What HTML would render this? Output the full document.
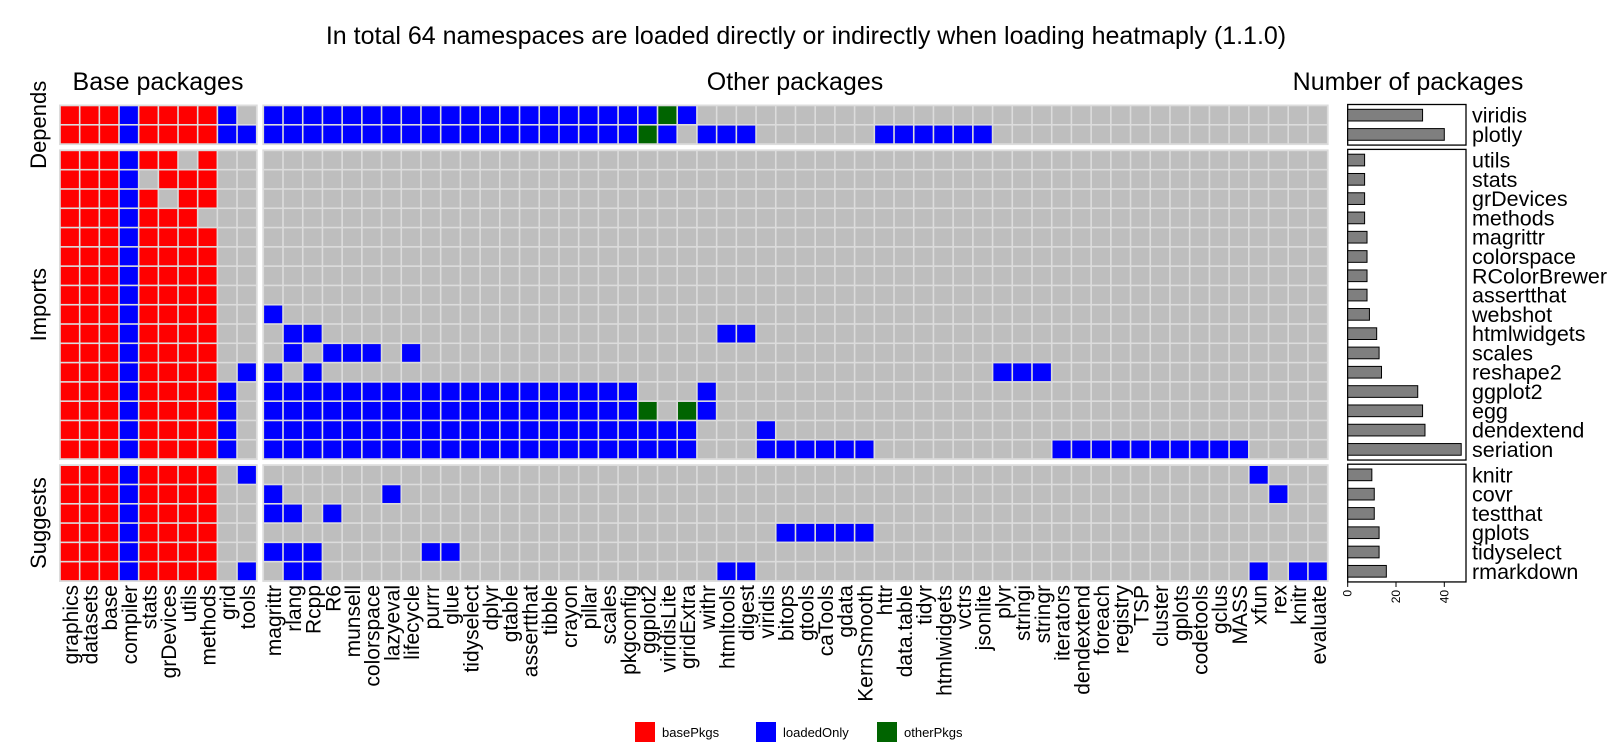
<!DOCTYPE html>
<html><head><meta charset="utf-8"><style>
html,body{margin:0;padding:0;background:#fff;}
svg{display:block;font-family:"Liberation Sans",Arial,sans-serif;}
</style></head><body>
<svg id="chart" width="1612" height="755" viewBox="0 0 1612 755" xmlns="http://www.w3.org/2000/svg">
<text x="806" y="44" font-size="25" text-anchor="middle">In total 64 namespaces are loaded directly or indirectly when loading heatmaply (1.1.0)</text>
<text x="158" y="90" font-size="25" text-anchor="middle">Base packages</text>
<text x="795" y="90" font-size="25" text-anchor="middle">Other packages</text>
<text x="1408" y="90" font-size="25" text-anchor="middle">Number of packages</text>
<g id="cells"></g>
<g id="bars"></g>
<g id="labels"></g>
<g id="legend"></g>
</svg>
<script>
const baseCols = ["graphics","datasets","base","compiler","stats","grDevices","utils","methods","grid","tools"];
const otherCols = ["magrittr","rlang","Rcpp","R6","munsell","colorspace","lazyeval","lifecycle","purrr","glue","tidyselect","dplyr","gtable","assertthat","tibble","crayon","pillar","scales","pkgconfig","ggplot2","viridisLite","gridExtra","withr","htmltools","digest","viridis","bitops","gtools","caTools","gdata","KernSmooth","httr","data.table","tidyr","htmlwidgets","vctrs","jsonlite","plyr","stringi","stringr","iterators","dendextend","foreach","registry","TSP","cluster","gplots","codetools","gclus","MASS","xfun","rex","knitr","evaluate"];
const groups = ["Depends","Imports","Suggests"];
const rowNames = ["viridis","plotly","utils","stats","grDevices","methods","magrittr","colorspace","RColorBrewer","assertthat","webshot","htmlwidgets","scales","reshape2","ggplot2","egg","dendextend","seriation","knitr","covr","testthat","gplots","tidyselect","rmarkdown"];
const rowGroup = [0,0,1,1,1,1,1,1,1,1,1,1,1,1,1,1,1,1,2,2,2,2,2,2];
// base part: r=basePkgs, b=loadedOnly, .=not loaded
const baseStatus = ["rrrbrrrrb.","rrrbrrrrbb","rrrbrr.r..","rrrb.rrr..","rrrbr.rr..","rrrbrrr...","rrrbrrrr..","rrrbrrrr..","rrrbrrrr..","rrrbrrrr..","rrrbrrrr..","rrrbrrrr..","rrrbrrrr..","rrrbrrrr.b","rrrbrrrrb.","rrrbrrrrb.","rrrbrrrrb.","rrrbrrrrb.","rrrbrrrr.b","rrrbrrrr..","rrrbrrrr..","rrrbrrrr..","rrrbrrrr..","rrrbrrrr.b"];
// other part: 1-based column indices that are loadedOnly (blue) / otherPkgs (green)
const otherBlue = [
 [1,2,3,4,5,6,7,8,9,10,11,12,13,14,15,16,17,18,19,20,22],
 [1,2,3,4,5,6,7,8,9,10,11,12,13,14,15,16,17,18,19,21,23,24,25,32,33,34,35,36,37],
 [],[],[],[],[],[],[],[],
 [1],
 [2,3,24,25],
 [2,4,5,6,8],
 [1,3,38,39,40],
 [1,2,3,4,5,6,7,8,9,10,11,12,13,14,15,16,17,18,19,23],
 [1,2,3,4,5,6,7,8,9,10,11,12,13,14,15,16,17,18,19,23],
 [1,2,3,4,5,6,7,8,9,10,11,12,13,14,15,16,17,18,19,20,21,22,26],
 [1,2,3,4,5,6,7,8,9,10,11,12,13,14,15,16,17,18,19,20,21,22,26,27,28,29,30,31,41,42,43,44,45,46,47,48,49,50],
 [51],
 [1,7,52],
 [1,2,4],
 [27,28,29,30,31],
 [1,2,3,9,10],
 [2,3,24,25,51,53,54]
];
const otherGreen = [[21],[20],[],[],[],[],[],[],[],[],[],[],[],[],[],[20,22],[],[],[],[],[],[],[],[]];
const counts = [31,40,7,7,7,7,8,8,8,8,9,12,13,14,29,31,32,47,10,11,11,13,13,16];
const barTicks = [0,20,40];
const legendKeys = ["basePkgs","loadedOnly","otherPkgs"];

const NS="http://www.w3.org/2000/svg";
function mk(tag, attrs, parent){const e=document.createElementNS(NS,tag);for(const k in attrs)e.setAttribute(k,attrs[k]);parent.appendChild(e);return e;}
const COL={r:"#FF0000",b:"#0000FF",g:"#006400",".":"#BEBEBE"};
const baseX0=60, cw=19.67, otherX0=263.3, ocw=19.71, rh=19.29;
const groupTop=[105.5,150.4,465.2];
const groupStart=[0,2,18];
function rowY(i){const g=rowGroup[i];return groupTop[g]+(i-groupStart[g])*rh;}
function baseX(j){return baseX0+j*cw;}
function otherX(j){return otherX0+j*ocw;}
const cells=document.getElementById('cells');
for(let g=0;g<3;g++){
  const n=rowGroup.filter(v=>v===g).length;
  const r1=mk('rect',{x:baseX0-1,y:groupTop[g]-1,width:cw*10+2,height:n*rh+2,fill:"#dcdcdc"},cells);
  
  
  const r2=mk('rect',{x:otherX0-1,y:groupTop[g]-1,width:ocw*54+2,height:n*rh+2,fill:"#dcdcdc"},cells);
  
  
}
for(let i=0;i<rowNames.length;i++){
  const y=rowY(i);
  for(let j=0;j<10;j++){
    const s=baseStatus[i][j];
    const c=mk('rect',{x:baseX(j)+0.8,y:y+0.8,width:cw-1.6,height:rh-1.6,fill:COL[s]},cells);
    
    
  }
  for(let j=0;j<54;j++){
    let s=".";
    if(otherBlue[i].indexOf(j+1)>=0)s="b";
    if(otherGreen[i].indexOf(j+1)>=0)s="g";
    const c=mk('rect',{x:otherX(j)+0.8,y:y+0.8,width:ocw-1.6,height:rh-1.6,fill:COL[s]},cells);
    
    
  }
}
const bars=document.getElementById('bars');
const bx0=1347.7, bx1=1466, pxPer=2.415;
function bx(v){return bx0+v*pxPer;}
for(let g=0;g<3;g++){
  const n=rowGroup.filter(v=>v===g).length;
  const p=mk('rect',{x:bx0,y:groupTop[g]-1,width:bx1-bx0,height:n*rh+2,fill:"none",stroke:"#000","stroke-width":1.3},bars);
  
  
}
for(let i=0;i<rowNames.length;i++){
  const y=rowY(i);
  const b=mk('rect',{x:bx(0),y:y+3.8,width:bx(counts[i])-bx(0),height:rh-7.6,fill:"#7f7f7f",stroke:"#000","stroke-width":1},bars);
  
  
  const t=mk('text',{x:1472,y:y+rh/2+7.5,"font-size":21.5},bars);
  t.textContent=rowNames[i];
  
  
}
const axY=groupTop[2]+6*rh+1;
const ax=mk('line',{x1:bx(0),x2:bx(40),y1:axY,y2:axY,stroke:"#000","stroke-width":1},bars);


barTicks.forEach(v=>{
  const tk=mk('line',{x1:bx(v),x2:bx(v),y1:axY,y2:axY+5,stroke:"#000","stroke-width":1},bars);
  
  
  const tl=mk('text',{x:0,y:0,"font-size":12,"text-anchor":"end",transform:`translate(${bx(v)+4},${axY+8}) rotate(-90)`},bars);
  tl.textContent=String(v);
  
  
});
const labels=document.getElementById('labels');
const labY=585;
baseCols.forEach((n,j)=>{
  const t=mk('text',{"font-size":21,"text-anchor":"end",transform:`translate(${baseX(j)+cw/2+8},${labY}) rotate(-90)`},labels);
  t.textContent=n;
  
  
});
otherCols.forEach((n,j)=>{
  const t=mk('text',{"font-size":21,"text-anchor":"end",transform:`translate(${otherX(j)+ocw/2+8},${labY}) rotate(-90)`},labels);
  t.textContent=n;
  
  
});
groups.forEach((g,k)=>{
  const n=rowGroup.filter(v=>v===k).length;
  const cy=groupTop[k]+n*rh/2;
  const t=mk('text',{"font-size":22,"text-anchor":"middle",transform:`translate(46,${cy}) rotate(-90)`},labels);
  t.textContent=g;
  
  
});
const legend=document.getElementById('legend');
const legCols=["#FF0000","#0000FF","#006400"];
const legX=[635,756,877];
legendKeys.forEach((k,i)=>{
  const r=mk('rect',{x:legX[i],y:722,width:20,height:20,fill:legCols[i]},legend);
  
  
  const t=mk('text',{x:legX[i]+27,y:737,"font-size":13},legend);
  t.textContent=k;
  
  
});
</script>
</body></html>
